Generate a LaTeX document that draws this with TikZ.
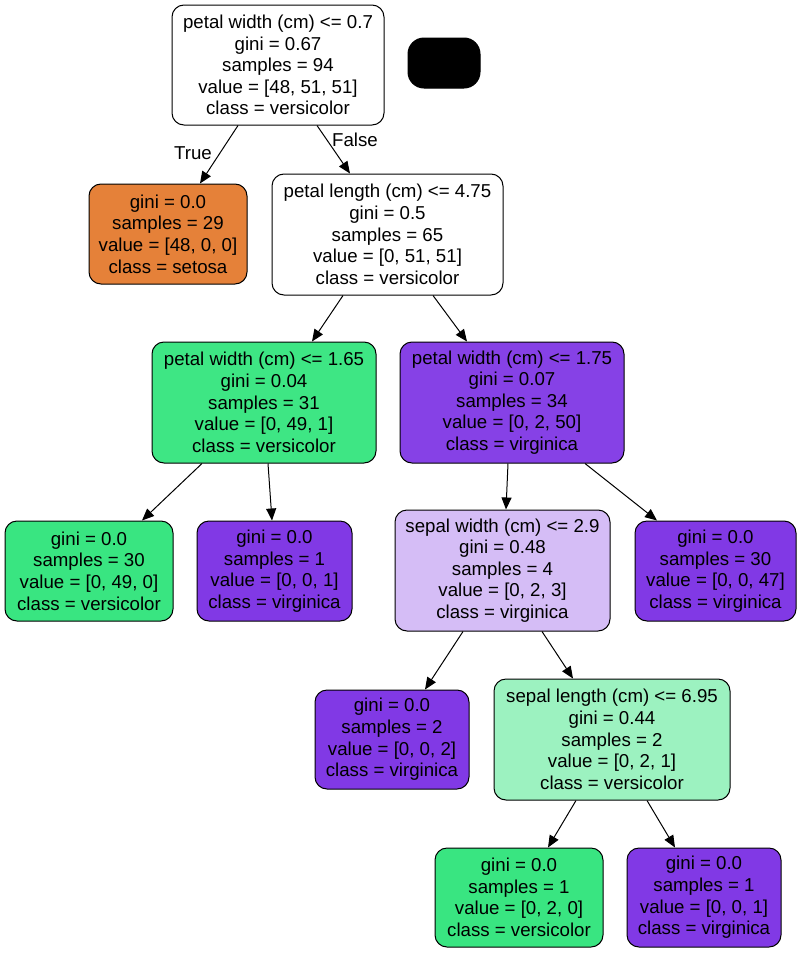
\documentclass[tikz,border=0pt]{standalone}
\usepackage{fontspec}
\setmainfont{Liberation Sans}
\usetikzlibrary{arrows.meta,calc}

\definecolor{setosa}{HTML}{E58139}
\definecolor{versi}{HTML}{39E581}
\definecolor{versiA}{HTML}{3EE684}
\definecolor{versiC}{HTML}{9CF2C0}
\definecolor{virgi}{HTML}{8139E5}
\definecolor{virgiA}{HTML}{8641E6}
\definecolor{virgiC}{HTML}{D5BDF6}

\tikzset{
  treenode/.style={draw=black, line width=0.75pt, rounded corners=9pt,
    align=center, inner sep=0pt, fill=white,
    font=\fontsize{14pt}{16.2pt}\selectfont},
  dims/.style 2 args={minimum width=#1, minimum height=#2},
  edge/.style={line width=0.75pt, -{Triangle[length=9pt,width=7.5pt]}},
  edgelabel/.style={font=\fontsize{14pt}{16.2pt}\selectfont, inner sep=0pt}
}

\begin{document}
\begin{tikzpicture}[x=0.75pt,y=-0.75pt]
  \path[use as bounding box, fill=white] (0,0) rectangle (802,953);

  % split nodes and leaves, top to bottom
  \node[treenode, dims={159pt}{90pt}] (root) at (278,65)
    {petal width (cm) <= 0.7\\gini = 0.67\\samples = 94\\value = [48, 51, 51]\\class = versicolor};
  \node[treenode, fill=black, rounded corners=12pt, dims={54pt}{37.5pt}] (blank) at (444,63) {};

  \node[treenode, fill=setosa, dims={118.5pt}{75pt}] (setosa) at (168,234)
    {gini = 0.0\\samples = 29\\value = [48, 0, 0]\\class = setosa};
  \node[treenode, dims={173.25pt}{90.75pt}] (plen) at (387.5,234.5)
    {petal length (cm) <= 4.75\\gini = 0.5\\samples = 65\\value = [0, 51, 51]\\class = versicolor};

  \node[treenode, fill=versiA, dims={168pt}{90.75pt}] (pwA) at (264,402.5)
    {petal width (cm) <= 1.65\\gini = 0.04\\samples = 31\\value = [0, 49, 1]\\class = versicolor};
  \node[treenode, fill=virgiA, dims={168pt}{90.75pt}] (pwB) at (512,402.5)
    {petal width (cm) <= 1.75\\gini = 0.07\\samples = 34\\value = [0, 2, 50]\\class = virginica};

  \node[treenode, fill=versi, dims={126pt}{75pt}] (leafA) at (89,571)
    {gini = 0.0\\samples = 30\\value = [0, 49, 0]\\class = versicolor};
  \node[treenode, fill=virgi, dims={116.25pt}{75pt}] (leafB) at (274.5,571)
    {gini = 0.0\\samples = 1\\value = [0, 0, 1]\\class = virginica};
  \node[treenode, fill=virgiC, dims={161.25pt}{90.75pt}] (swid) at (502.5,570.5)
    {sepal width (cm) <= 2.9\\gini = 0.48\\samples = 4\\value = [0, 2, 3]\\class = virginica};
  \node[treenode, fill=virgi, dims={120.75pt}{75pt}] (leafC) at (715.5,571)
    {gini = 0.0\\samples = 30\\value = [0, 0, 47]\\class = virginica};

  \node[treenode, fill=virgi, dims={115.5pt}{74.25pt}] (leafD) at (392,739.5)
    {gini = 0.0\\samples = 2\\value = [0, 0, 2]\\class = virginica};
  \node[treenode, fill=versiC, dims={177pt}{90.75pt}] (slen) at (612,739.5)
    {sepal length (cm) <= 6.95\\gini = 0.44\\samples = 2\\value = [0, 2, 1]\\class = versicolor};

  \node[treenode, fill=versi, dims={126pt}{74.25pt}] (leafE) at (519,897.5)
    {gini = 0.0\\samples = 1\\value = [0, 2, 0]\\class = versicolor};
  \node[treenode, fill=virgi, dims={115.5pt}{74.25pt}] (leafF) at (704,897.5)
    {gini = 0.0\\samples = 1\\value = [0, 0, 1]\\class = virginica};

  % branches
  \draw[edge] ($(root.south)+(-40,0)$) -- ($(setosa.north)+(32,0)$);
  \draw[edge] ($(root.south)+(39,0)$) -- ($(plen.north)+(-37.5,0)$);
  \draw[edge] ($(plen.south)+(-44.5,0)$) -- ($(pwA.north)+(48,0)$);
  \draw[edge] ($(plen.south)+(45.5,0)$) -- ($(pwB.north)+(-45,0)$);
  \draw[edge] ($(pwA.south)+(-62,0)$) -- ($(leafA.north)+(53,0)$);
  \draw[edge] ($(pwA.south)+(4,0)$) -- ($(leafB.north)+(-2.5,0)$);
  \draw[edge] ($(pwB.south)+(-4,0)$) -- ($(swid.north)+(3.5,0)$);
  \draw[edge] ($(pwB.south)+(73,0)$) -- ($(leafC.north)+(-58.5,0)$);
  \draw[edge] ($(swid.south)+(-39.5,0)$) -- ($(leafD.north)+(33,0)$);
  \draw[edge] ($(swid.south)+(39.5,0)$) -- ($(slen.north)+(-39,0)$);
  \draw[edge] ($(slen.south)+(-36,0)$) -- ($(leafE.north)+(29,0)$);
  \draw[edge] ($(slen.south)+(35,0)$) -- ($(leafF.north)+(-29,0)$);

  \node[edgelabel] (truelbl) at (193,153) {True};
  \node[edgelabel] (falselbl) at (355,140) {False};
\end{tikzpicture}
\end{document}
